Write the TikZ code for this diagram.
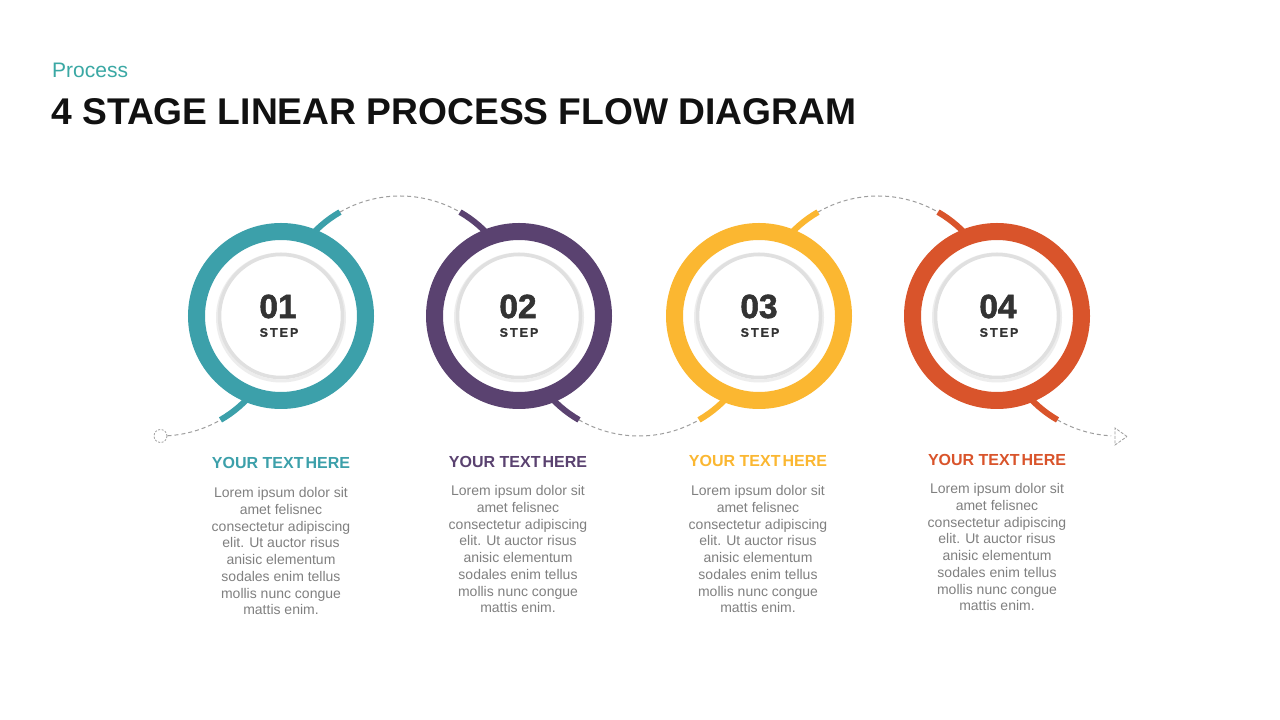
\documentclass[tikz,border=0pt]{standalone}
\usepackage{fontspec}
\setmainfont{Liberation Sans}
\usetikzlibrary{calc}
\definecolor{cteal}{HTML}{3CA0AA}
\definecolor{cpurple}{HTML}{5A4270}
\definecolor{cyellow}{HTML}{FBB731}
\definecolor{corange}{HTML}{D9542B}
\definecolor{cproc}{HTML}{3AA8A4}
\definecolor{ctitle}{HTML}{111111}
\definecolor{cnum}{HTML}{333333}
\definecolor{cbody}{HTML}{808080}
\definecolor{cdash}{HTML}{9E9E9E}
\definecolor{cinner}{HTML}{E0E0E0}
\begin{document}
\begin{tikzpicture}[x=1pt,y=1pt,
  ring/.style={line width=17pt},
  tabline/.style={line width=6pt},
  dashline/.style={draw=cdash, line width=1pt, dash pattern=on 4pt off 3pt},
  innershadow/.style={draw=black!7, line width=3pt},
  innercircle/.style={draw=cinner, line width=3.5pt, fill=white},
  numtxt/.style={inner sep=0pt, text=cnum, font=\fontsize{33.5}{33.5}\selectfont\bfseries\addfontfeature{FakeBold=1.6}},
  steptxt/.style={inner sep=0pt, text=cnum, font=\fontsize{12.5}{12.5}\selectfont\bfseries\addfontfeature{LetterSpace=16,FakeBold=0.6}},
  headtxt/.style={inner sep=0pt, font=\fontsize{16}{16}\selectfont\bfseries},
  bodytxt/.style={inner sep=0pt, anchor=north, align=center, text=cbody, font=\fontsize{14}{16.7}\selectfont}
]
\useasboundingbox (0,0) rectangle (1280,720);
\fill[white] (0,0) rectangle (1280,720);

% title
\node[anchor=base west, inner sep=0pt, text=cproc, font=\fontsize{21}{21}\selectfont] (proc) at (52,642) {Process};
\node[anchor=base west, inner sep=0pt, text=ctitle, font=\fontsize{37.2}{37.2}\selectfont\bfseries] (title) at (51,595) {4 STAGE LINEAR PROCESS FLOW DIAGRAM};

% centres
\coordinate (s1) at (281,404);
\coordinate (s2) at (519,404);
\coordinate (s3) at (759,404);
\coordinate (s4) at (997,404);
\coordinate (c0) at (160.5,404);
\coordinate (c1) at (400,404);
\coordinate (c2) at (639,404);
\coordinate (c3) at (878,404);
\coordinate (c4) at (1117.5,404);

% dashed connectors
\draw[dashline] (c0) ++(270:120) arc[start angle=270, end angle=300, radius=120];
\draw[dashline] (c1) ++(120:120) arc[start angle=120, end angle=60, radius=120];
\draw[dashline] (c2) ++(240:120) arc[start angle=240, end angle=300, radius=120];
\draw[dashline] (c3) ++(120:120) arc[start angle=120, end angle=60, radius=120];
\draw[dashline] (c4) ++(240:120) arc[start angle=240, end angle=267, radius=120];

% tabs
\draw[tabline, cteal] (c0) ++(300:120) arc[start angle=300, end angle=322, radius=120];
\draw[tabline, cteal] (c1) ++(120:120) arc[start angle=120, end angle=142, radius=120];
\draw[tabline, cpurple] (c1) ++(60:120) arc[start angle=60, end angle=38, radius=120];
\draw[tabline, cpurple] (c2) ++(240:120) arc[start angle=240, end angle=218, radius=120];
\draw[tabline, cyellow] (c2) ++(300:120) arc[start angle=300, end angle=322, radius=120];
\draw[tabline, cyellow] (c3) ++(120:120) arc[start angle=120, end angle=142, radius=120];
\draw[tabline, corange] (c3) ++(60:120) arc[start angle=60, end angle=38, radius=120];
\draw[tabline, corange] (c4) ++(240:120) arc[start angle=240, end angle=218, radius=120];

% start circle and end arrow
\node[circle, draw=cdash, fill=white, line width=0.8pt, dash pattern=on 2pt off 1.5pt, minimum size=13pt, inner sep=0pt] (startc) at ($(c0)+(270:120)$) {};
\coordinate (arrtip) at (1127,283.5);
\draw[draw=cdash, fill=white, line width=0.8pt, dash pattern=on 3pt off 1.5pt, line join=miter]
  (arrtip) -- ++(-12,8.5) -- ++(0,-17) -- cycle;

% rings
\foreach \p/\c in {s1/cteal, s2/cpurple, s3/cyellow, s4/corange}{
  \draw[ring, \c] (\p) circle[radius=84.5];
  \draw[innershadow] ($(\p)+(0,-1.5)$) circle[radius=63.5];
  \draw[innercircle] (\p) circle[radius=61.5];
}

% numbers
\node[numtxt] (n1) at (278,413.5) {01};
\node[steptxt] (t1) at (279,387.5) {STEP};
\node[numtxt] (n2) at (518,413.5) {02};
\node[steptxt] (t2) at (519,387.5) {STEP};
\node[numtxt] (n3) at (759,413.5) {03};
\node[steptxt] (t3) at (760,387.5) {STEP};
\node[numtxt] (n4) at (998,413.5) {04};
\node[steptxt] (t4) at (999,387.5) {STEP};

% headings
\node[headtxt, text=cteal] (h1) at (281,257) {YOUR TEXT\hspace{2pt}HERE};
\node[headtxt, text=cpurple] (h2) at (518,258) {YOUR TEXT\hspace{2pt}HERE};
\node[headtxt, text=cyellow] (h3) at (758,259) {YOUR TEXT\hspace{2pt}HERE};
\node[headtxt, text=corange] (h4) at (997,260) {YOUR TEXT\hspace{2pt}HERE};

% body
\newcommand{\loremtext}{Lorem ipsum dolor sit\\amet felisnec\\consectetur adipiscing\\elit. Ut auctor risus\\anisic elementum\\sodales enim tellus\\mollis nunc congue\\mattis enim.}
\node[bodytxt] (b1) at (281,232.5) {\loremtext};
\node[bodytxt] (b2) at (518,234.5) {\loremtext};
\node[bodytxt] (b3) at (758,234.5) {\loremtext};
\node[bodytxt] (b4) at (997,236.5) {\loremtext};
\end{tikzpicture}
\end{document}
